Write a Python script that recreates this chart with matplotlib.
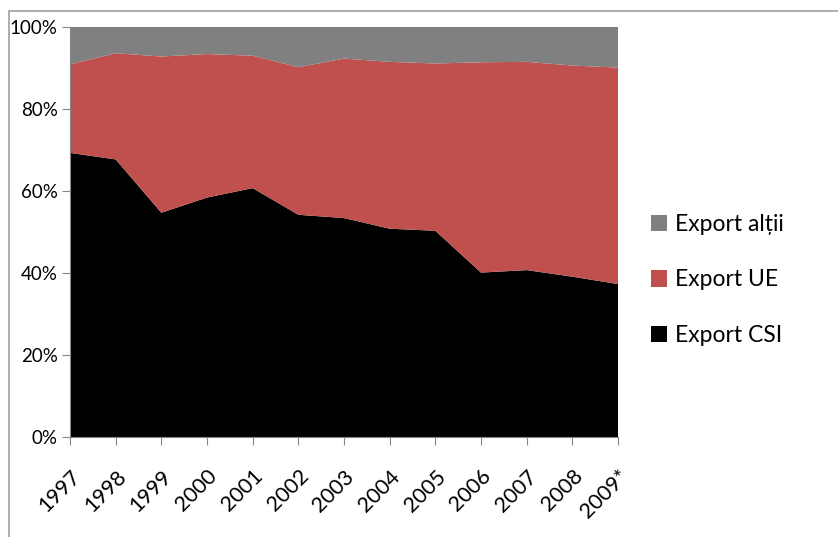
import matplotlib
matplotlib.use("Agg")
import matplotlib.pyplot as plt
from matplotlib.patches import Rectangle
from matplotlib.ticker import FuncFormatter
from matplotlib.transforms import ScaledTranslation

plt.rcParams['font.family'] = ['Lato', 'DejaVu Sans']

# shares of exports, percent
years = ["1997", "1998", "1999", "2000", "2001", "2002", "2003",
         "2004", "2005", "2006", "2007", "2008", "2009*"]
export_csi = [69.3, 67.7, 54.7, 58.4, 60.7, 54.2, 53.4, 50.8, 50.3, 40.1, 40.7, 39.1, 37.3]
export_ue = [21.6, 25.9, 38.1, 35.0, 32.3, 36.0, 38.9, 40.7, 40.8, 51.3, 50.8, 51.5, 52.8]
export_other = [9.1, 6.4, 7.2, 6.6, 7.0, 9.8, 7.7, 8.5, 8.9, 8.6, 8.5, 9.4, 9.9]

colors = ["#000000", "#C0504D", "#808080"]
labels = ["Export CSI", "Export UE", "Export alții"]

fig = plt.figure(figsize=(8.38, 5.37), dpi=100)
fig.patches.append(Rectangle((9 / 838, -0.01), 1.0, 1 - 11 / 537 + 0.01,
                             transform=fig.transFigure, fill=False,
                             edgecolor="#A0A0A0", linewidth=1.2))

ax = fig.add_axes([70 / 838, 100 / 537, 548 / 838, 410 / 537])
x = list(range(len(years)))
polys = ax.stackplot(x, export_csi, export_ue, export_other,
                     colors=colors, labels=labels, linewidth=0)

ax.set_xlim(0, len(years) - 1)
ax.set_ylim(0, 100)
ax.set_yticks(range(0, 101, 20))
ax.yaxis.set_major_formatter(FuncFormatter(lambda v, p: "%d%%" % v))
ax.set_xticks(x)
ax.set_xticklabels(years, rotation=45, ha="right", va="top",
                   rotation_mode="anchor", fontsize=15.5)
shift = ScaledTranslation(-9 / 100, 0, fig.dpi_scale_trans)
for lbl in ax.get_xticklabels():
    lbl.set_transform(lbl.get_transform() + shift)

for s in ["top", "right"]:
    ax.spines[s].set_visible(False)
for s in ["left", "bottom"]:
    ax.spines[s].set_color("#868686")
ax.tick_params(axis="both", colors="#868686", labelcolor="black",
               length=6, direction="out")
ax.tick_params(axis="y", labelsize=13.5, pad=3)
ax.tick_params(axis="x", pad=15)

handles, lbls = ax.get_legend_handles_labels()
fig.legend(handles[::-1], lbls[::-1], loc="center left",
           bbox_to_anchor=(630 / 838, 1 - 280 / 537), frameon=False,
           fontsize=16.5, handlelength=0.7, handleheight=0.7,
           handletextpad=0.35, labelspacing=1.5)

fig.savefig("out.png", dpi=100)
